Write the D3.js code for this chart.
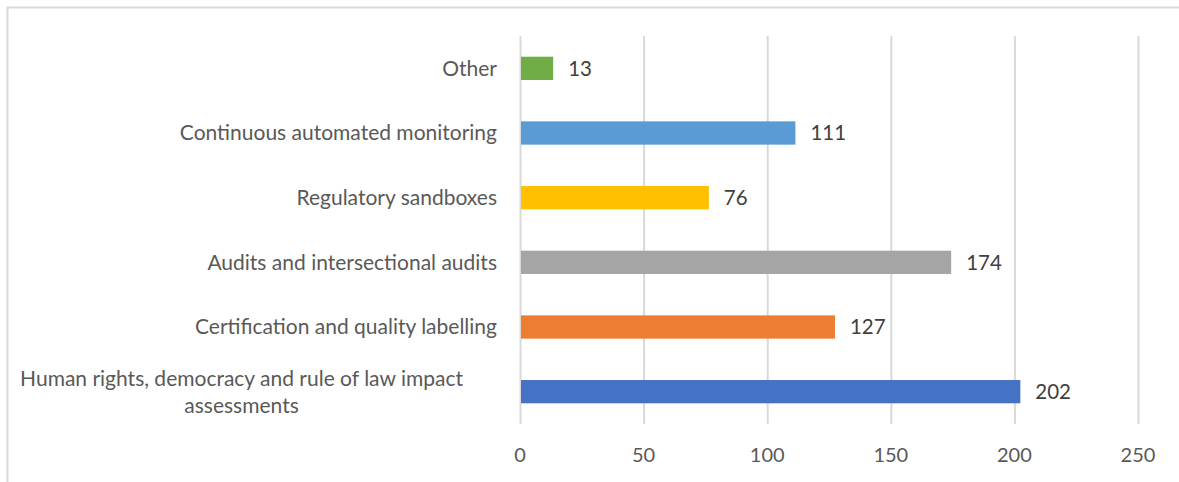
<!DOCTYPE html>
<html>
<head>
<meta charset="utf-8">
<script src="https://cdn.jsdelivr.net/npm/d3@7"></script>
<style>
  body { margin: 0; background: #fff; }
  svg { display: block; font-family: Lato, "Open Sans", sans-serif; }
  .grid line { stroke: #d9d9d9; stroke-width: 2; }
  .tick-label { fill: #595959; font-size: 20px; }
  .cat-label { fill: #595959; font-size: 21px; }
  .val-label { fill: #404040; font-size: 20.5px; }
</style>
</head>
<body>
<svg class="bar-chart" width="1179" height="482"></svg>
<script>
// data, bottom to top as in the picture
var categories = [
  ['Human rights, democracy and rule of law impact', 'assessments'],
  ['Certification and quality labelling'],
  ['Audits and intersectional audits'],
  ['Regulatory sandboxes'],
  ['Continuous automated monitoring'],
  ['Other']
];
var values = [202, 127, 174, 76, 111, 13];
var colors = ['#4472c4', '#ed7d31', '#a5a5a5', '#ffc000', '#5b9bd5', '#70ad47'];
var ticks = [0, 50, 100, 150, 200, 250];

var svg = d3.select('.bar-chart');
var margin = {top: 36, right: 40, bottom: 58, left: 520}
  , width = svg.attr('width') - margin.left - margin.right
  , height = svg.attr('height') - margin.top - margin.bottom;

// outer chart border
svg.append('rect')
  .attr('x', 7.5).attr('y', 7.5)
  .attr('width', 1200).attr('height', 500)
  .style('fill', 'none')
  .style('stroke', '#d9d9d9')
  .style('stroke-width', 2);

var g = svg.append('g')
  .attr('transform', 'translate(' + margin.left + ',' + margin.top + ')');

var xScale = d3.scaleLinear().domain([0, 250]).range([0, width - 1]);
var yScale = d3.scaleBand()
  .domain(d3.range(values.length).reverse())
  .range([0, height])
  .paddingInner(0.64)
  .paddingOuter(0.32);

// vertical gridlines
g.append('g').attr('class', 'grid')
  .selectAll('line').data(ticks)
  .enter().append('line')
  .attr('x1', function(d) { return xScale(d) + 0.5; })
  .attr('x2', function(d) { return xScale(d) + 0.5; })
  .attr('y1', 0).attr('y2', height);

// tick labels
g.selectAll('.tick-label').data(ticks)
  .enter().append('text')
  .attr('class', 'tick-label')
  .attr('x', function(d) { return xScale(d); })
  .attr('y', height + 31)
  .attr('dy', '0.35em')
  .attr('text-anchor', 'middle')
  .text(function(d) { return d; });

// bars
g.selectAll('.bar').data(values)
  .enter().append('rect')
  .attr('class', 'bar')
  .attr('x', xScale(0) + 1)
  .attr('y', function(d, i) { return yScale(i); })
  .attr('width', function(d) { return xScale(d) - xScale(0); })
  .attr('height', yScale.bandwidth())
  .style('fill', function(d, i) { return colors[i]; });

// value labels
g.selectAll('.val-label').data(values)
  .enter().append('text')
  .attr('class', 'val-label')
  .attr('x', function(d) { return xScale(d) + 16; })
  .attr('y', function(d, i) { return yScale(i) + yScale.bandwidth() / 2; })
  .attr('dy', '0.35em')
  .text(function(d) { return d; });

// category labels (wrapped ones are centered like Excel does)
categories.forEach(function(lines, i) {
  var cy = yScale(i) + yScale.bandwidth() / 2;
  var lineH = 27;
  var t = g.append('text').attr('class', 'cat-label');
  lines.forEach(function(s, k) {
    t.append('tspan')
      .attr('y', cy + (k - (lines.length - 1) / 2) * lineH)
      .attr('dy', '0.35em')
      .text(s);
  });
  if (lines.length === 1) {
    t.attr('text-anchor', 'end');
    t.selectAll('tspan').attr('x', -23);
  } else {
    var w = d3.max(t.selectAll('tspan').nodes(), function(n) { return n.getComputedTextLength(); });
    t.attr('text-anchor', 'middle');
    t.selectAll('tspan').attr('x', -57 - w / 2);
  }
});
</script>
</body>
</html>
